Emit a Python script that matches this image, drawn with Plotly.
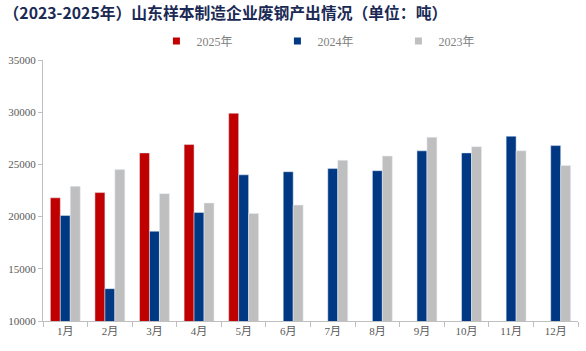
import plotly.graph_objects as go

months = ["1月", "2月", "3月", "4月", "5月", "6月", "7月", "8月", "9月", "10月", "11月", "12月"]
y2025 = [21800, 22300, 26100, 26900, 29900, None, None, None, None, None, None, None]
y2024 = [20100, 13100, 18600, 20400, 24000, 24300, 24600, 24400, 26300, 26100, 27700, 26800]
y2023 = [22900, 24500, 22200, 21300, 20300, 21100, 25400, 25800, 27600, 26700, 26300, 24900]
y_ticks = [10000, 15000, 20000, 25000, 30000, 35000]
series = [("2025年", y2025, "#C00000"), ("2024年", y2024, "#003883"), ("2023年", y2023, "#BFBFBF")]

title = "（2023-2025年）山东样本制造企业废钢产出情况（单位：吨）"

fig = go.Figure()
for name, vals, col in series:
    fig.add_bar(x=months, y=vals, name=name, marker_color=col, showlegend=False)
for name, vals, col in series:
    # legend-only entries with small square swatches
    fig.add_scatter(x=[None], y=[None], mode="markers", name=name,
                    marker=dict(symbol="square", size=7, color=col))

fig.update_layout(
    width=586, height=351,
    margin=dict(l=43, r=8, t=60, b=30),
    paper_bgcolor="white", plot_bgcolor="white",
    barmode="group", bargap=0.33, bargroupgap=0,
    title=dict(text="<b>" + title + "</b>", x=0.006, xanchor="left", y=0.962, yanchor="middle",
               font=dict(family="Noto Sans CJK SC", size=15.8, color="#1B2A55")),
    legend=dict(orientation="h", x=0.212, xanchor="left", y=1.073, yanchor="middle",
                entrywidth=76, entrywidthmode="pixels",
                font=dict(family="Liberation Serif, Noto Sans CJK SC", size=12, color="#7F7F7F"),
                itemwidth=30, bgcolor="rgba(0,0,0,0)"),
    font=dict(family="Liberation Serif, Noto Sans CJK SC", size=11, color="#595959"),
)
fig.update_xaxes(showline=True, linecolor="#BFBFBF", linewidth=1, ticks="outside", tickson="boundaries",
                 ticklen=5, tickcolor="#BFBFBF", showgrid=False,
                 tickfont=dict(family="Liberation Serif, Noto Sans CJK SC", size=11, color="#595959"))
fig.update_yaxes(range=[10000, 35000], tickvals=y_ticks, tickformat="d", showline=True, linecolor="#BFBFBF",
                 linewidth=1, ticks="outside", ticklen=4, tickcolor="#BFBFBF", showgrid=False, zeroline=False,
                 tickfont=dict(family="Liberation Serif", size=11, color="#595959"))

fig.write_html("out.html")
